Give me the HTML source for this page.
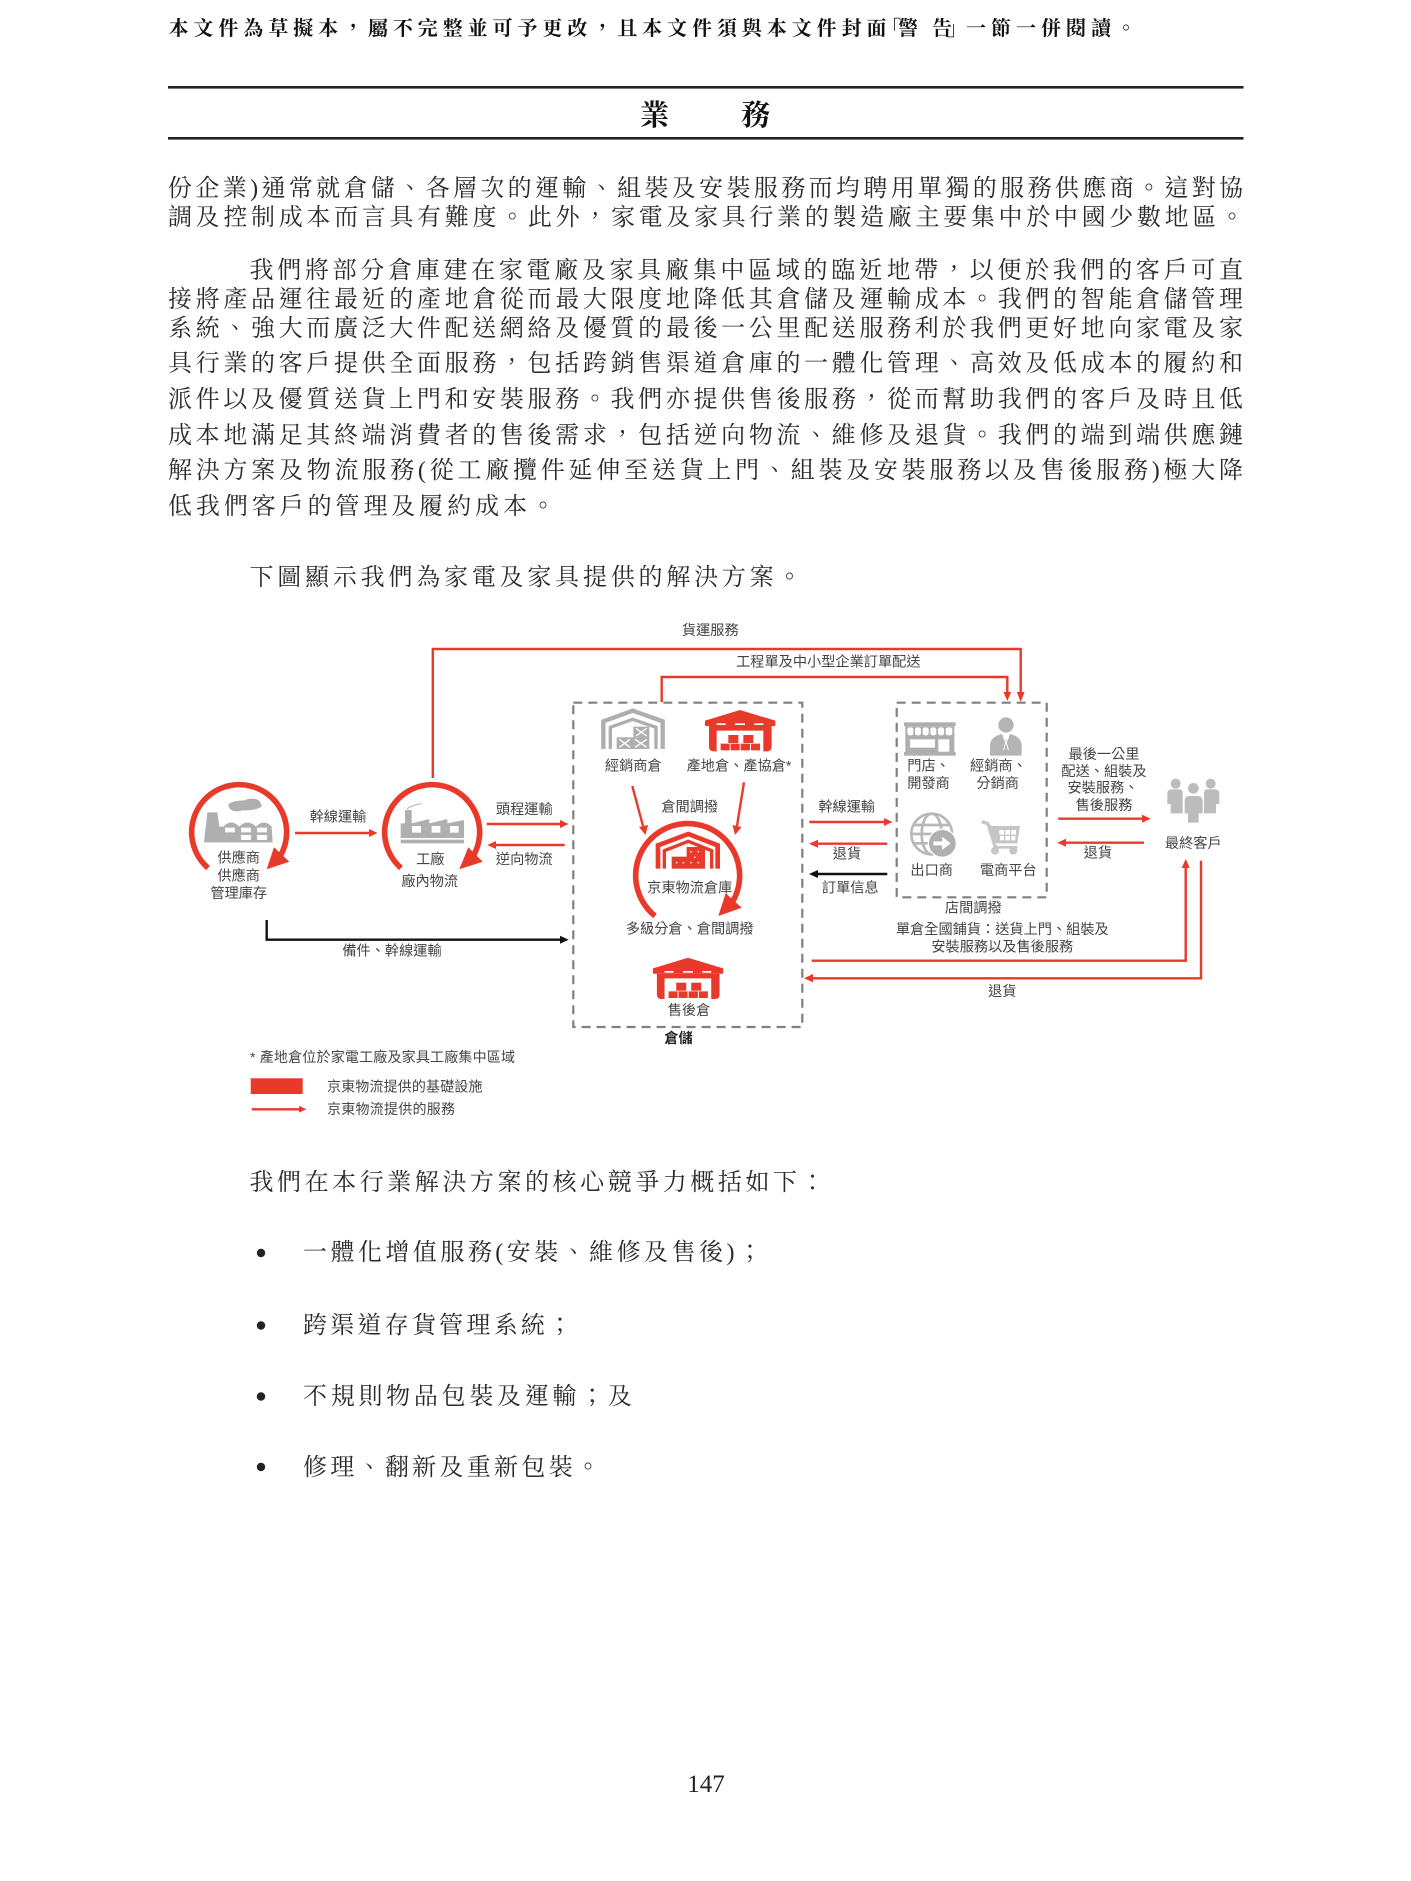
<!DOCTYPE html>
<html lang="zh-Hant"><head><meta charset="utf-8"><title>業務</title>
<style>
html,body{margin:0;padding:0;background:#fff;width:1411px;height:1881px;overflow:hidden}
svg{display:block}
.b text{font-family:"Liberation Serif","Noto Serif CJK TC","Noto Serif CJK SC",serif;font-size:24px;fill:#2a2a2a;dominant-baseline:central}
.b text.h{font-size:20px;font-weight:700;fill:#111}
.d text{font-family:"Liberation Sans","Noto Sans CJK TC",sans-serif;font-size:14.2px;fill:#444;dominant-baseline:central;text-anchor:middle}
.d text.l{text-anchor:start}
</style></head><body>
<svg xmlns="http://www.w3.org/2000/svg" width="1411" height="1881" viewBox="0 0 1411 1881">
<rect width="1411" height="1881" fill="#fff"/>

<g class="b">
<text class="h" x="168.5" y="29" textLength="718" lengthAdjust="spacing">本文件為草擬本，屬不完整並可予更改，且本文件須與本文件封面</text>
<text class="h" x="881" y="29">「</text>
<text class="h" x="898" y="29" textLength="54" lengthAdjust="spacing">警告</text>
<text class="h" x="947" y="29">」</text>
<text class="h" x="966" y="29" textLength="170" lengthAdjust="spacing">一節一併閱讀。</text>
<rect x="168" y="86" width="1075.5" height="2.6" fill="#222"/>
<rect x="168" y="137" width="1075.5" height="2.6" fill="#222"/>
<text x="640" y="116" style="font-size:29px;font-weight:700;fill:#111">業</text>
<text x="741" y="116" style="font-size:29px;font-weight:700;fill:#111">務</text>

<text x="168" y="189" textLength="1075" lengthAdjust="spacing">份企業)通常就倉儲、各層次的運輸、組裝及安裝服務而均聘用單獨的服務供應商。這對協</text>
<text x="168" y="218" textLength="1076" lengthAdjust="spacing">調及控制成本而言具有難度。此外，家電及家具行業的製造廠主要集中於中國少數地區。</text>
<text x="249.5" y="271" textLength="993.5" lengthAdjust="spacing">我們將部分倉庫建在家電廠及家具廠集中區域的臨近地帶，以便於我們的客戶可直</text>
<text x="168" y="300" textLength="1075" lengthAdjust="spacing">接將產品運往最近的產地倉從而最大限度地降低其倉儲及運輸成本。我們的智能倉儲管理</text>
<text x="168" y="329" textLength="1075" lengthAdjust="spacing">系統、強大而廣泛大件配送網絡及優質的最後一公里配送服務利於我們更好地向家電及家</text>
<text x="168" y="364" textLength="1075" lengthAdjust="spacing">具行業的客戶提供全面服務，包括跨銷售渠道倉庫的一體化管理、高效及低成本的履約和</text>
<text x="168" y="400" textLength="1075" lengthAdjust="spacing">派件以及優質送貨上門和安裝服務。我們亦提供售後服務，從而幫助我們的客戶及時且低</text>
<text x="168" y="436" textLength="1075" lengthAdjust="spacing">成本地滿足其終端消費者的售後需求，包括逆向物流、維修及退貨。我們的端到端供應鏈</text>
<text x="168" y="471" textLength="1075" lengthAdjust="spacing">解決方案及物流服務(從工廠攬件延伸至送貨上門、組裝及安裝服務以及售後服務)極大降</text>
<text x="168" y="507" textLength="387" lengthAdjust="spacing">低我們客戶的管理及履約成本。</text>
<text x="249.5" y="578" textLength="552" lengthAdjust="spacing">下圖顯示我們為家電及家具提供的解決方案。</text>
<text x="249.5" y="1183" textLength="575" lengthAdjust="spacing">我們在本行業解決方案的核心競爭力概括如下：</text>
<circle cx="261" cy="1253" r="4.2" fill="#222"/>
<circle cx="261" cy="1325.5" r="4.2" fill="#222"/>
<circle cx="261" cy="1396.5" r="4.2" fill="#222"/>
<circle cx="261" cy="1467" r="4.2" fill="#222"/>
<text x="303" y="1253" textLength="459" lengthAdjust="spacing">一體化增值服務(安裝、維修及售後)；</text>
<text x="303" y="1326" textLength="269" lengthAdjust="spacing">跨渠道存貨管理系統；</text>
<text x="303" y="1397" textLength="329" lengthAdjust="spacing">不規則物品包裝及運輸；及</text>
<text x="303" y="1468" textLength="297" lengthAdjust="spacing">修理、翻新及重新包裝。</text>
<text x="706" y="1784.5" text-anchor="middle" style="font-size:25px;fill:#222">147</text>
</g>

<g class="d">
<!-- dashed boxes -->
<rect x="573.3" y="702.7" width="229" height="324.3" fill="none" stroke="#808080" stroke-width="2.2" stroke-dasharray="9 6"/>
<rect x="896.7" y="702.7" width="150" height="194.6" fill="none" stroke="#808080" stroke-width="2.2" stroke-dasharray="9 6"/>

<!-- red connector lines -->
<g fill="none" stroke="#e8392b" stroke-width="2.4">
<path d="M432.8 778V649H1020.7V692"/>
<path d="M661.7 702V677H1007.3V692"/>
<path d="M295 833H370"/>
<path d="M486.7 824H561"/>
<path d="M564.7 845H495"/>
<path d="M632.3 786L643 826"/>
<path d="M744 782.3L737 826"/>
<path d="M809.3 822H885"/>
<path d="M887.3 843.7H817"/>
<path d="M1058.3 818.7H1143"/>
<path d="M1144 842.7H1065"/>
<path d="M811.7 960.7H1185.7V867"/>
<path d="M1201 860.7V978.3H812"/>
<path d="M251.8 1109.3H300"/>
</g>
<g fill="#e8392b">
<path d="M1016.8 692H1024.6L1020.7 702Z"/>
<path d="M1003.4 692H1011.2L1007.3 701Z"/>
<path d="M369 829L377.5 833L369 837Z"/>
<path d="M560 820L568.7 824L560 828Z"/>
<path d="M496 841L487.3 845L496 849Z"/>
<path d="M639 827L648 825L645.5 835Z"/>
<path d="M732.5 825L741.5 827L735 835Z"/>
<path d="M884 818L892.5 822L884 826Z"/>
<path d="M818 839.7L809 843.7L818 847.7Z"/>
<path d="M1142 814.7L1150.7 818.7L1142 822.7Z"/>
<path d="M1066 838.7L1057.3 842.7L1066 846.7Z"/>
<path d="M1181.7 868L1185.7 859L1189.7 868Z"/>
<path d="M813 974L804 978.3L813 982.3Z"/>
<path d="M299 1106L306.5 1109.3L299 1112.6Z"/>
<rect x="250.7" y="1078.3" width="52" height="15.7"/>
</g>

<!-- black connectors -->
<g fill="none" stroke="#111" stroke-width="2.4">
<path d="M266.7 920V939.7H561"/>
<path d="M887.3 874H817"/>
</g>
<g fill="#111">
<path d="M560 935.7L568.7 939.7L560 943.7Z"/>
<path d="M818 870L809 874L818 878Z"/>
</g>

<!-- circular arcs -->
<g fill="none" stroke="#e8392b" stroke-width="5.6">
<path d="M208 868A47.5 47.5 0 1 1 279 858"/>
<path d="M401 868A47.5 47.5 0 1 1 472 858"/>
<path d="M655 916A52 52 0 1 1 733 901"/>
</g>
<g fill="#e8392b">
<path d="M266.7 869.3L289.3 861.7L274 847.3Z"/>
<path d="M459.3 869.3L482.7 861.7L468.3 847.3Z"/>
<path d="M718.3 916L741.7 907.7L725.7 893.3Z"/>
</g>

<!-- factories (zoom coordinates) -->
<g transform="translate(160 610) scale(.33333)">
<g fill="#afafaf">
<path d="M132 697L142 607H172L178 650H190Q213 625 238 650Q262 625 288 650Q312 625 335 650L338 697Z"/>
<ellipse cx="255" cy="586" rx="50" ry="15"/><ellipse cx="232" cy="590" rx="25" ry="14"/><ellipse cx="275" cy="578" rx="26" ry="12"/>
</g>
<g fill="#fff">
<rect x="195" y="653" width="30" height="14"/><rect x="243" y="653" width="30" height="14"/><rect x="291" y="653" width="30" height="14"/>
<rect x="243" y="675" width="30" height="15"/><rect x="291" y="675" width="30" height="15"/>
</g>
<g fill="#afafaf">
<path d="M722 684V640H735V600H755V640L808 627V640L862 627V640L912 630V684Z"/>
<rect x="722" y="689" width="190" height="11"/>
</g>
<g fill="#fff"><rect x="756" y="648" width="27" height="20"/><rect x="815" y="648" width="26" height="20"/><rect x="870" y="648" width="26" height="20"/></g>
<path d="M741 596Q760 585 785 581" stroke="#afafaf" stroke-width="3" fill="none"/>
</g>

<!-- warehouses / store / person / globe / cart -->
<g transform="translate(560 610) scale(.33333)">
<!-- grey warehouse -->
<g fill="none" stroke="#aeaeae">
<path d="M130 417V334L218 302L308 334V417" stroke-width="13"/>
<path d="M151 417V352L218 328L288 352V417" stroke-width="10"/>
</g>
<g fill="#aeaeae"><rect x="170" y="382" width="98" height="35"/><rect x="220" y="350" width="48" height="32"/></g>
<path d="M178 388L210 412M210 388L178 412M225 388L260 412M260 388L225 412M228 355L260 378M260 355L228 378" stroke="#fff" stroke-width="4" fill="none"/>
<!-- red warehouse -->
<g fill="#e8392b">
<path d="M435 332L540 300L646 332V348H435Z"/>
<path d="M447 348H635V410Q635 424 621 424H610V362H470V424H461Q447 424 447 410Z"/>
<rect x="505" y="375" width="30" height="24"/><rect x="550" y="375" width="30" height="24"/>
<rect x="482" y="401" width="27" height="20"/><rect x="512" y="401" width="27" height="20"/><rect x="542" y="401" width="28" height="20"/><rect x="573" y="401" width="27" height="20"/>
<g fill="#fff"><rect x="470" y="340" width="27" height="5"/><rect x="525" y="340" width="30" height="5"/><rect x="583" y="340" width="27" height="5"/></g>
</g>
<!-- red warehouse center -->
<g fill="none" stroke="#e8392b">
<path d="M294 776V706L385 672L473 706V776" stroke-width="14"/>
<path d="M313 776V722L385 694L455 722V776" stroke-width="10"/>
</g>
<g fill="#e8392b"><rect x="335" y="740" width="100" height="36"/><rect x="380" y="711" width="55" height="31"/></g>
<g fill="#fff"><circle cx="350" cy="758" r="2.5"/><circle cx="370" cy="758" r="2.5"/><circle cx="393" cy="725" r="2.5"/><circle cx="415" cy="725" r="2.5"/><circle cx="393" cy="758" r="2.5"/><circle cx="415" cy="758" r="2.5"/><circle cx="404" cy="742" r="2.5"/></g>
<!-- store -->
<g fill="#aeaeae">
<rect x="1032" y="337" width="155" height="12"/>
<rect x="1036" y="349" width="147" height="78"/>
<rect x="1032" y="426" width="155" height="11"/>
</g>
<g fill="#fff">
<rect x="1042" y="352" width="18" height="24" rx="7"/><rect x="1065" y="352" width="18" height="24" rx="7"/><rect x="1088" y="352" width="18" height="24" rx="7"/><rect x="1111" y="352" width="18" height="24" rx="7"/><rect x="1134" y="352" width="18" height="24" rx="7"/><rect x="1157" y="352" width="20" height="24" rx="7"/>
<rect x="1050" y="388" width="75" height="25"/><rect x="1135" y="388" width="33" height="37"/>
</g>
<!-- person -->
<g fill="#b4b4b4">
<circle cx="1338" cy="345" r="23"/>
<path d="M1290 437V402Q1294 380 1325 372L1338 392L1351 372Q1381 380 1385 402V437Z"/>
</g>
<path d="M1330 380L1337 397L1331 420M1346 380L1339 397L1345 420" stroke="#fff" stroke-width="3" fill="none"/>
<!-- globe -->
<g fill="none" stroke="#b8b8b8" stroke-width="8">
<circle cx="1115" cy="672" r="61"/>
<ellipse cx="1115" cy="672" rx="30" ry="61"/>
<path d="M1062 645H1168M1056 672H1174M1062 700H1168"/>
</g>
<circle cx="1147" cy="700" r="42" fill="#b0b0b0" stroke="#fff" stroke-width="4"/>
<path d="M1120 694H1146V680L1172 700L1146 720V706H1120Z" fill="#fff"/>
<!-- cart -->
<g fill="#c6c6c6">
<path d="M1265 630L1286 636L1293 648H1380L1372 700H1306L1312 708H1372V716H1302L1280 645L1265 640Z"/>
<circle cx="1305" cy="722" r="12"/><circle cx="1360" cy="722" r="12"/>
</g>
<g fill="#fff"><rect x="1318" y="660" width="14" height="14"/><rect x="1336" y="660" width="14" height="14"/><rect x="1354" y="660" width="14" height="14"/><rect x="1320" y="678" width="12" height="13"/><rect x="1336" y="678" width="14" height="13"/><rect x="1354" y="678" width="12" height="13"/></g>
</g>

<!-- after-sales warehouse copy -->
<g transform="translate(652.9 957.7) scale(.33333) translate(-435 -300)" fill="#e8392b">
<path d="M435 332L540 300L646 332V348H435Z"/>
<path d="M447 348H635V410Q635 424 621 424H610V362H470V424H461Q447 424 447 410Z"/>
<rect x="505" y="375" width="30" height="24"/><rect x="550" y="375" width="30" height="24"/>
<rect x="482" y="401" width="27" height="20"/><rect x="512" y="401" width="27" height="20"/><rect x="542" y="401" width="28" height="20"/><rect x="573" y="401" width="27" height="20"/>
<g fill="#fff"><rect x="470" y="340" width="27" height="5"/><rect x="525" y="340" width="30" height="5"/><rect x="583" y="340" width="27" height="5"/></g>
</g>

<!-- people -->
<g transform="translate(860 680) scale(.33333)" fill="#bcbcbc">
<circle cx="947" cy="311" r="15"/><circle cx="1052" cy="311" r="15"/>
<path d="M922 340Q922 328 935 328H960Q968 328 968 340V400H932V372H922Z"/>
<path d="M1078 340Q1078 328 1065 328H1040Q1032 328 1032 340V400H1068V372H1078Z"/>
<circle cx="1000" cy="325" r="18" stroke="#fff" stroke-width="4"/>
<path d="M972 362Q972 346 988 346H1012Q1030 346 1030 362V402H1018V430H982V402H972Z" stroke="#fff" stroke-width="4"/>
</g>

<!-- labels -->
<g transform="translate(0 .8)">
<text x="710.3" y="630.3">貨運服務</text>
<text x="828.3" y="661.7">工程單及中小型企業訂單配送</text>
<text x="338" y="816.7">幹線運輸</text>
<text x="238.7" y="857.7">供應商</text>
<text x="238.7" y="875.7">供應商</text>
<text x="238.7" y="893">管理庫存</text>
<text x="430.3" y="859">工廠</text>
<text x="429.7" y="881">廠內物流</text>
<text x="524.3" y="809.3">頭程運輸</text>
<text x="524.3" y="859">逆向物流</text>
<text x="392" y="950.7">備件、幹線運輸</text>
<text x="633.3" y="765.7">經銷商倉</text>
<text x="739" y="765.7">產地倉、產協倉*</text>
<text x="689.7" y="806.7">倉間調撥</text>
<text x="689.7" y="887.7">京東物流倉庫</text>
<text x="689.7" y="928.7">多級分倉、倉間調撥</text>
<text x="689" y="1010">售後倉</text>
<text x="678.5" y="1038.3" style="font-weight:700;fill:#222">倉儲</text>
<text x="846.7" y="806.7">幹線運輸</text>
<text x="847" y="853.7">退貨</text>
<text x="850.3" y="887.7">訂單信息</text>
<text class="l" x="907.3" y="765.7">門店、</text>
<text class="l" x="907.3" y="783">開發商</text>
<text class="l" x="970" y="765.7">經銷商、</text>
<text x="997.7" y="783">分銷商</text>
<text x="931.7" y="870">出口商</text>
<text x="1008.3" y="870">電商平台</text>
<text x="973.3" y="907.7">店間調撥</text>
<text x="1002.3" y="929">單倉全國鋪貨：送貨上門、組裝及</text>
<text x="1002.3" y="946.7">安裝服務以及售後服務</text>
<text x="1002.3" y="991">退貨</text>
<text x="1104" y="754">最後一公里</text>
<text x="1104" y="771">配送、組裝及</text>
<text x="1103" y="787.7">安裝服務、</text>
<text x="1104" y="805">售後服務</text>
<text x="1098" y="852.7">退貨</text>
<text x="1193.3" y="843.3">最終客戶</text>
<text class="l" x="250" y="1056" textLength="265" lengthAdjust="spacing" style="font-size:14px">* 產地倉位於家電工廠及家具工廠集中區域</text>
<text class="l" x="327" y="1085.7" textLength="155.5" lengthAdjust="spacing" style="font-size:14px">京東物流提供的基礎設施</text>
<text class="l" x="327" y="1108" textLength="128" lengthAdjust="spacing" style="font-size:14px">京東物流提供的服務</text>
</g>
</g>
</svg>
</body></html>
